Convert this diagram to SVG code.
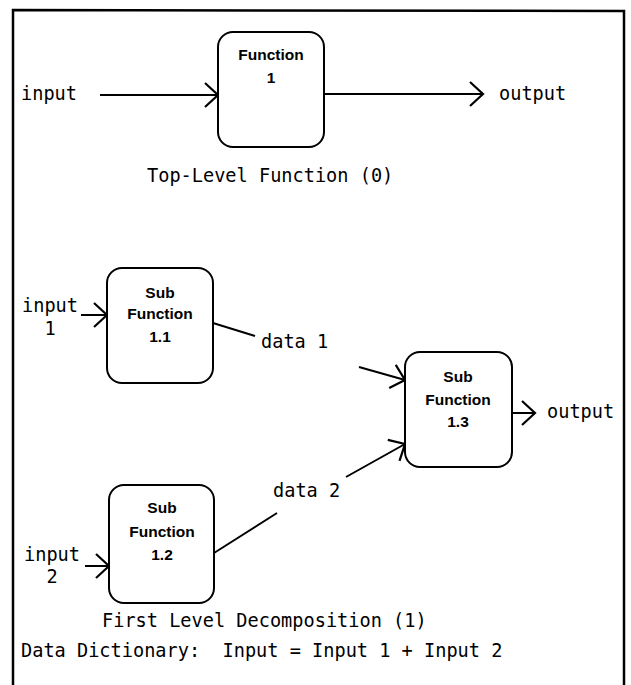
<svg xmlns="http://www.w3.org/2000/svg" width="631" height="685" viewBox="0 0 631 685">
<style>
.frame{fill:none;stroke:#000;stroke-width:2.5}
.box{fill:#fff;stroke:#000;stroke-width:2}
.lbl{font-family:"Liberation Sans",Arial,sans-serif;font-weight:bold;font-size:15.5px;text-anchor:middle;fill:#000}
.t{font-family:"DejaVu Sans Mono","Liberation Mono",monospace;font-size:18.6px;fill:#000}
.tc{text-anchor:middle}
.ln{fill:none;stroke:#000;stroke-width:2}
</style>
<defs>
<marker id="chev" markerUnits="userSpaceOnUse" markerWidth="30" markerHeight="30" viewBox="-16 -15 20 30" refX="0" refY="0" orient="auto">
<path d="M-13,-12 L0,0 L-13,12" fill="none" stroke="#000" stroke-width="2.2"/>
</marker>
</defs>
<rect width="631" height="685" fill="#fff"/>
<path class="frame" d="M13,685 L13,10 L624,11 L624,685"/>
<g id="connectors">
<line class="ln" x1="100" y1="95" x2="218" y2="95" marker-end="url(#chev)"/>
<line class="ln" x1="324" y1="94" x2="483" y2="94" marker-end="url(#chev)"/>
<line class="ln" x1="81" y1="315" x2="107" y2="315" marker-end="url(#chev)"/>
<line class="ln" x1="213" y1="323" x2="255" y2="336"/>
<line class="ln" x1="359" y1="367" x2="405" y2="380" marker-end="url(#chev)"/>
<line class="ln" x1="85" y1="566" x2="109" y2="566" marker-end="url(#chev)"/>
<line class="ln" x1="214" y1="553" x2="277" y2="513"/>
<line class="ln" x1="346" y1="477" x2="405" y2="444" marker-end="url(#chev)"/>
<line class="ln" x1="512" y1="413" x2="535" y2="413" marker-end="url(#chev)"/>
</g>
<g id="function-1">
<rect class="box" x="218" y="32" width="106" height="115" rx="15"/>
<text class="lbl" x="271" y="60">Function</text>
<text class="lbl" x="271" y="83">1</text>
</g>
<g id="sub-function-1-1">
<rect class="box" x="107" y="268" width="106" height="115" rx="15"/>
<text class="lbl" x="160" y="298">Sub</text>
<text class="lbl" x="160" y="319">Function</text>
<text class="lbl" x="160" y="342">1.1</text>
</g>
<g id="sub-function-1-2">
<rect class="box" x="109" y="485" width="105" height="118" rx="15"/>
<text class="lbl" x="162" y="513">Sub</text>
<text class="lbl" x="162" y="537">Function</text>
<text class="lbl" x="162" y="560">1.2</text>
</g>
<g id="sub-function-1-3">
<rect class="box" x="405" y="352" width="107" height="115" rx="15"/>
<text class="lbl" x="458" y="382">Sub</text>
<text class="lbl" x="458" y="405">Function</text>
<text class="lbl" x="458" y="427">1.3</text>
</g>
<g id="labels">
<text class="t" x="21" y="100">input</text>
<text class="t" x="499" y="100">output</text>
<text class="t" x="147" y="182">Top-Level Function (0)</text>
<text class="t" x="22" y="312">input</text>
<text class="t tc" x="50" y="335">1</text>
<text class="t" x="261" y="348">data 1</text>
<text class="t" x="273" y="497">data 2</text>
<text class="t" x="547" y="418">output</text>
<text class="t" x="24" y="561">input</text>
<text class="t tc" x="52" y="583">2</text>
<text class="t" x="102" y="627">First Level Decomposition (1)</text>
<text class="t" x="21" y="657" xml:space="preserve">Data Dictionary:  Input = Input 1 + Input 2</text>
</g>
</svg>
